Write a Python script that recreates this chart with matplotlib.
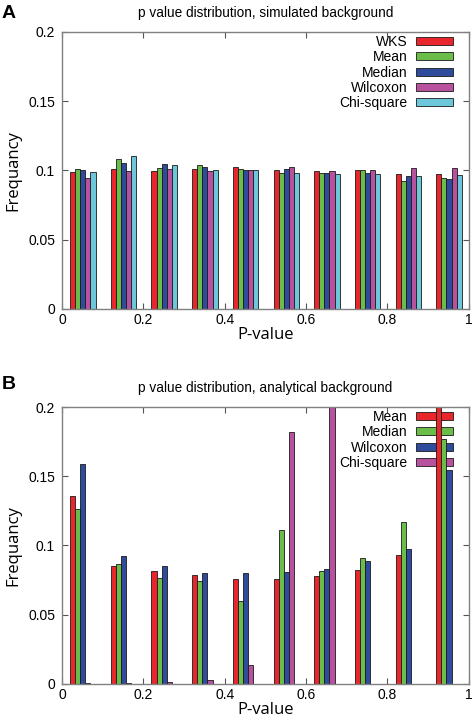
import matplotlib
matplotlib.use("Agg")
from matplotlib import pyplot as plt
import numpy as np

# bins of the p value histogram (left edge of each bin)
bins = [0.0, 0.1, 0.2, 0.3, 0.4, 0.5, 0.6, 0.7, 0.8, 0.9]

# panel A: simulated background
sim_names = ["WKS", "Mean", "Median", "Wilcoxon", "Chi-square"]
sim_wks = [0.0988, 0.1014, 0.0995, 0.1014, 0.1024, 0.1007, 0.0995, 0.1002, 0.0974, 0.0978]
sim_mean = [0.1010, 0.1081, 0.1017, 0.1038, 0.1010, 0.0983, 0.0983, 0.1005, 0.0926, 0.0947]
sim_median = [0.1002, 0.1053, 0.1045, 0.1022, 0.1000, 0.1010, 0.0983, 0.0981, 0.0962, 0.0938]
sim_wilcoxon = [0.0943, 0.0993, 0.1014, 0.0993, 0.1002, 0.1022, 0.0993, 0.1000, 0.1017, 0.1017]
sim_chisq = [0.0990, 0.1108, 0.1038, 0.1002, 0.1002, 0.0983, 0.0976, 0.0976, 0.0959, 0.0969]

# panel B: analytical background
ana_names = ["Mean", "Median", "Wilcoxon", "Chi-square"]
ana_mean = [0.1356, 0.0853, 0.0817, 0.0790, 0.0759, 0.0759, 0.0783, 0.0824, 0.0930, 0.2100]
ana_median = [0.1261, 0.0865, 0.0764, 0.0742, 0.0598, 0.1110, 0.0814, 0.0908, 0.1167, 0.1766]
ana_wilcoxon = [0.1589, 0.0923, 0.0855, 0.0800, 0.0800, 0.0807, 0.0829, 0.0889, 0.0975, 0.1543]
ana_chisq = [0.0005, 0.0005, 0.0012, 0.0029, 0.0135, 0.1823, 0.2600, 0.0, 0.0, 0.0]

colors = ['#e8262b', '#6bbd4a', '#2f4c9c', '#b8529f', '#6cc7da']

plt.rcParams['font.family'] = ['Liberation Sans', 'DejaVu Sans']

fig = plt.figure(figsize=(4.75, 7.25), dpi=100)
ax1 = fig.add_axes([0.1305, 0.5738, 0.8565, 0.3821])
ax2 = fig.add_axes([0.1305, 0.0566, 0.8565, 0.3820])

bw = 0.0125
x = np.array(bins)


def draw_panel(ax, series, names, title):
    for k, (vals, name) in enumerate(zip(series, names)):
        ax.bar(x + 0.02 + k * bw, vals, width=bw, align='edge', color=colors[k],
               edgecolor='#1a1a1a', linewidth=0.6, label=name)
    ax.set_xlim(0, 1)
    ax.set_ylim(0, 0.2)
    ax.set_xticks([0, 0.2, 0.4, 0.6, 0.8, 1])
    ax.set_xticklabels(['0', '0.2', '0.4', '0.6', '0.8', '1'])
    ax.set_yticks([0, 0.05, 0.1, 0.15, 0.2])
    ax.set_yticklabels(['0', '0.05', '0.1', '0.15', '0.2'])
    ax.tick_params(direction='in', length=4, width=0.8, color='#555555',
                   top=True, right=True, labelsize=10, pad=5)
    ax.tick_params(axis='x', pad=3)
    for s in ax.spines.values():
        s.set_color('#808080')
        s.set_linewidth(1.0)
    ax.set_title(title, fontsize=9.8, pad=11)
    ax.set_xlabel('P-value', family=['Open Sans', 'DejaVu Sans'], fontsize=12, labelpad=0)
    ax.set_ylabel('Frequancy', family=['Open Sans', 'DejaVu Sans'], fontsize=12, labelpad=5)
    leg = ax.legend(loc='upper right', bbox_to_anchor=(0.962, 0.99), frameon=False,
                    markerfirst=False, fontsize=10, handlelength=2.7, handleheight=0.5,
                    handletextpad=0.6, labelspacing=0.1, borderaxespad=0, borderpad=0)
    leg.set_zorder(0.5)


draw_panel(ax1, [sim_wks, sim_mean, sim_median, sim_wilcoxon, sim_chisq], sim_names,
           'p value distribution, simulated background')
draw_panel(ax2, [ana_mean, ana_median, ana_wilcoxon, ana_chisq], ana_names,
           'p value distribution, analytical background')

fig.text(0.003, 0.982, 'A', fontsize=14, fontweight='bold', va='center')
fig.text(0.003, 0.469, 'B', fontsize=14, fontweight='bold', va='center')

plt.savefig('out.png', dpi=100)
